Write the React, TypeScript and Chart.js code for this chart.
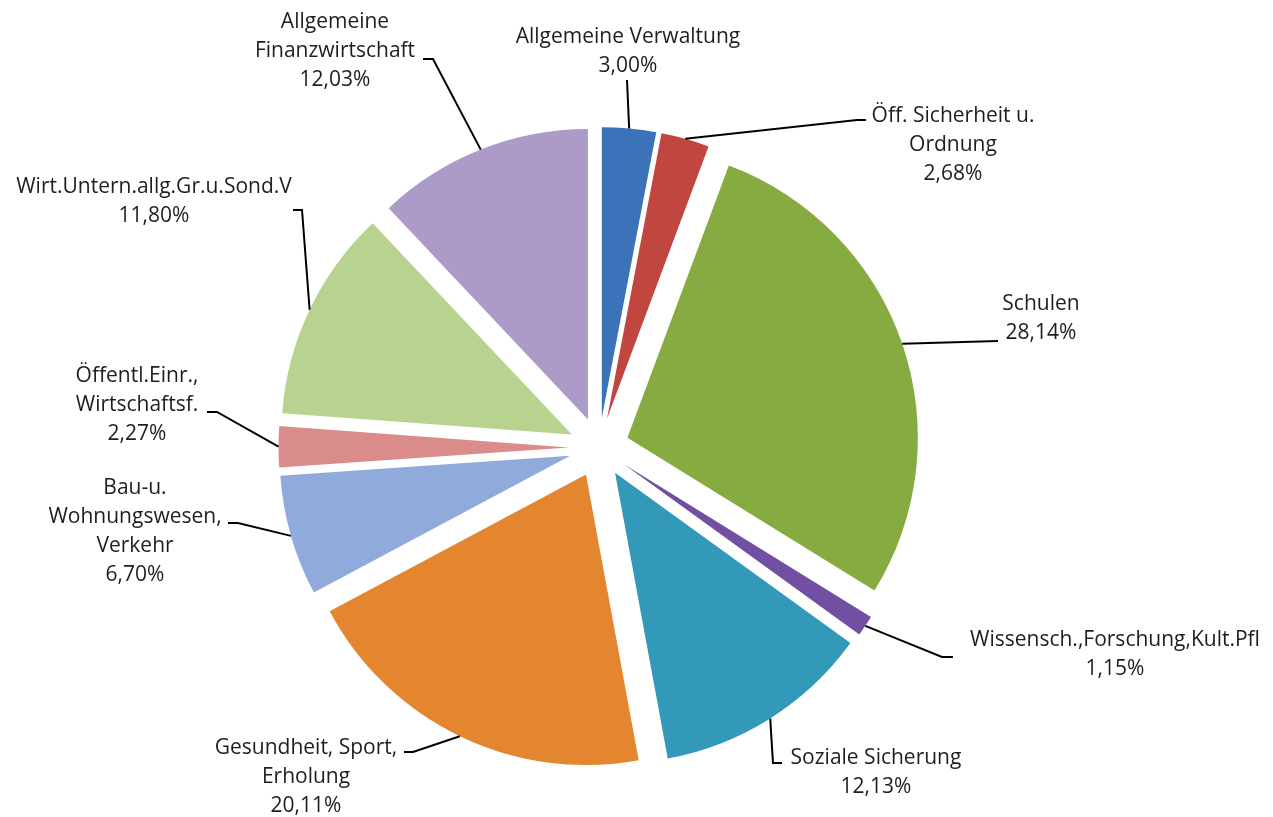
import React, { useEffect, useRef } from 'react';
import { Chart, ArcElement, registerables } from 'chart.js';

Chart.register(...registerables);

// ---- data ----
const categories = [
  'Allgemeine Verwaltung',
  'Öff. Sicherheit u.\nOrdnung',
  'Schulen',
  'Wissensch.,Forschung,Kult.Pfl',
  'Soziale Sicherung',
  'Gesundheit, Sport,\nErholung',
  'Bau-u.\nWohnungswesen,\nVerkehr',
  'Öffentl.Einr.,\nWirtschaftsf.',
  'Wirt.Untern.allg.Gr.u.Sond.V',
  'Allgemeine\nFinanzwirtschaft',
];
const shares = [3.0, 2.68, 28.14, 1.15, 12.13, 20.11, 6.7, 2.27, 11.8, 12.03];

// ---- styles ----
const sliceColors = [
  '#3C72B8',
  '#C0463F',
  '#86AC41',
  '#7150A3',
  '#3399B8',
  '#E4852F',
  '#8FAADB',
  '#DA8C8A',
  '#B8D38F',
  '#AC9BC9',
];

// label block anchors: centre x, first-line y
const labelAnchors: number[][] = [
  [628, 37],
  [953, 116],
  [1041, 304],
  [1115, 640],
  [876, 758],
  [306, 748],
  [135, 488],
  [137, 376],
  [154, 187],
  [335, 22],
];
// leader line bend/end points (after the point on the slice edge)
const leaderPaths: number[][][] = [
  [[627, 80]],
  [[857, 120], [866, 120]],
  [[998, 341]],
  [[942, 657], [953, 657]],
  [[773, 763], [782, 763]],
  [[413, 752], [404, 752]],
  [[238, 523], [228, 523]],
  [[217, 412], [207, 412]],
  [[302, 210], [293, 210]],
  [[433, 59], [423, 59]],
];

const EXPLODE = 30;
const LINE_H = 29;
const FONT = '21px "Open Sans", "Noto Sans", sans-serif';

// explode every slice outward along its bisector
const baseArcDraw = ArcElement.prototype.draw;
if (!(ArcElement.prototype as any).__exploded) {
  (ArcElement.prototype as any).__exploded = true;
  ArcElement.prototype.draw = function (ctx: CanvasRenderingContext2D) {
    const mid = (this.startAngle + this.endAngle) / 2;
    ctx.save();
    ctx.translate(Math.cos(mid) * EXPLODE, Math.sin(mid) * EXPLODE);
    baseArcDraw.call(this, ctx);
    ctx.restore();
  };
}

const fmt = (v: number) => v.toFixed(2).replace('.', ',') + '%';

const labelPlugin = {
  id: 'pieLabels',
  afterDatasetsDraw(chart: any) {
    const ctx: CanvasRenderingContext2D = chart.ctx;
    const meta = chart.getDatasetMeta(0);
    ctx.save();
    meta.data.forEach((arc: any, i: number) => {
      const { x, y, startAngle, endAngle, outerRadius } = arc.getProps(
        ['x', 'y', 'startAngle', 'endAngle', 'outerRadius'],
        true
      );
      const mid = (startAngle + endAngle) / 2;
      const r = outerRadius + EXPLODE;
      const px = x + Math.cos(mid) * r;
      const py = y + Math.sin(mid) * r;
      ctx.beginPath();
      ctx.moveTo(px, py);
      leaderPaths[i].forEach((p) => ctx.lineTo(p[0], p[1]));
      ctx.strokeStyle = '#000';
      ctx.lineWidth = 2;
      ctx.stroke();

      const lines = [...categories[i].split('\n'), fmt(shares[i])];
      ctx.fillStyle = '#1e1e1e';
      ctx.font = FONT;
      ctx.textAlign = 'center';
      ctx.textBaseline = 'middle';
      lines.forEach((t, k) => {
        ctx.fillText(t, labelAnchors[i][0], labelAnchors[i][1] + k * LINE_H);
      });
    });
    ctx.restore();
  },
};

export default function App() {
  const ref = useRef<HTMLCanvasElement | null>(null);
  useEffect(() => {
    if (!ref.current) return;
    const chart = new Chart(ref.current, {
      type: 'pie',
      data: {
        labels: categories,
        datasets: [
          {
            data: shares,
            backgroundColor: sliceColors,
            borderWidth: 0,
            radius: 290.5,
          } as any,
        ],
      },
      options: {
        animation: false,
        responsive: false,
        devicePixelRatio: 1,
        layout: { padding: { left: 0, right: 75, top: 78, bottom: 0 } },
        plugins: {
          legend: { display: false },
          tooltip: { enabled: false },
        },
        events: [],
      },
      plugins: [labelPlugin],
    });
    return () => chart.destroy();
  }, []);
  return (
    <div style={{ position: 'fixed', left: 0, top: 0, width: 1273, height: 817, background: '#fff' }}>
      <canvas ref={ref} width={1273} height={817} style={{ width: 1273, height: 817 }} />
    </div>
  );
}
